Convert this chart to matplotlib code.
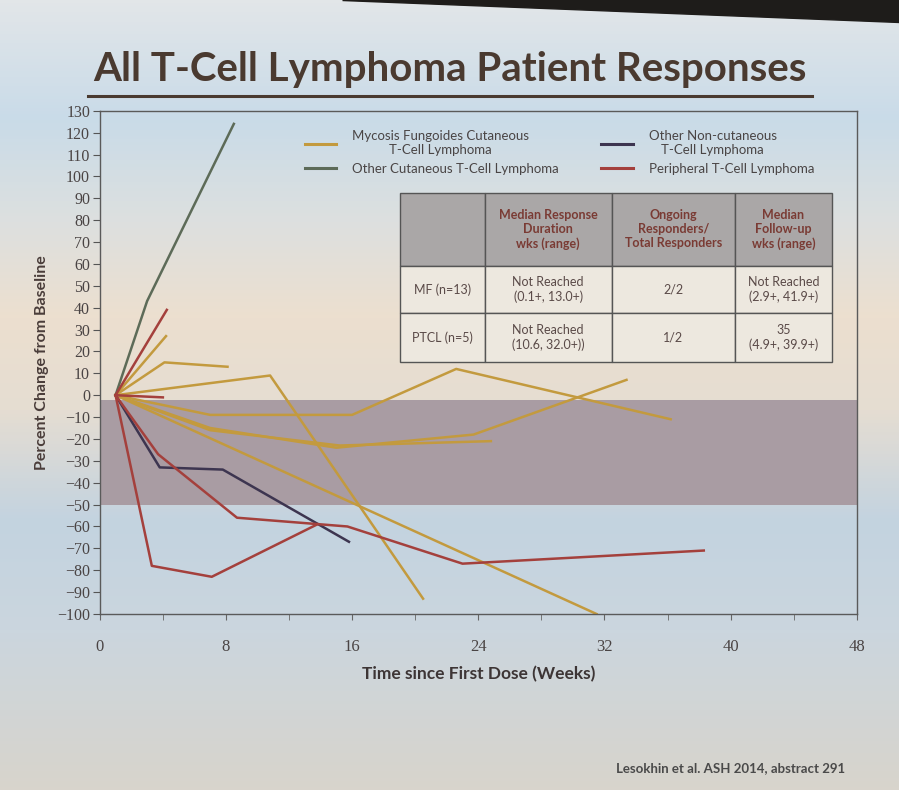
import numpy as np
import matplotlib.pyplot as plt
from matplotlib.colors import LinearSegmentedColormap
from matplotlib.lines import Line2D

plt.rcParams['font.family'] = ['Lato', 'DejaVu Sans']

# colours per lymphoma type
MF_C = '#c39a3e'
OCT_C = '#5d6b58'
ONC_C = '#3d3550'
PTCL_C = '#a4403c'

# weeks / percent change, one pair per patient
mf_t = [[1, 4.2], [1, 4.1, 8.1], [1, 10.8, 20.5], [1, 7, 16, 22.6, 36.2],
        [1, 7, 15, 23.7, 33.4], [1, 7, 15.2, 24.8], [1, 31.5]]
mf_v = [[0, 27], [0, 15, 13], [0, 9, -93], [0, -9, -9, 12, -11],
        [0, -15, -24, -18, 7], [0, -16, -23, -21], [0, -100]]
oct_t = [[1, 3, 8.5]]
oct_v = [[0, 43, 124]]
onc_t = [[1, 3.8, 7.8, 15.8]]
onc_v = [[0, -33, -34, -67]]
ptcl_t = [[1, 4.25], [1, 4], [1, 3.7, 8.7, 15.7, 23, 38.3], [1, 3.3, 7.1, 13.8]]
ptcl_v = [[0, 39], [0, -1], [0, -27, -56, -60, -77, -71], [0, -78, -83, -59]]

band = (-50, -2)

legend_labels = ['Mycosis Fungoides Cutaneous\nT-Cell Lymphoma',
                 'Other Cutaneous T-Cell Lymphoma',
                 'Other Non-cutaneous\nT-Cell Lymphoma',
                 'Peripheral T-Cell Lymphoma']

table_header = ['', 'Median Response\nDuration\nwks (range)',
                'Ongoing\nResponders/\nTotal Responders',
                'Median\nFollow-up\nwks (range)']
table_rows = [['MF (n=13)', 'Not Reached\n(0.1+, 13.0+)', '2/2', 'Not Reached\n(2.9+, 41.9+)'],
              ['PTCL (n=5)', 'Not Reached\n(10.6, 32.0+))', '1/2', '35\n(4.9+, 39.9+)']]

fig = plt.figure(figsize=(8.99, 7.9), dpi=100)

# photo-like background of the projected slide (top -> bottom)
bg = fig.add_axes([0, 0, 1, 1], zorder=-5)
stops = [(0.0, '#e2e6e8'), (0.15, '#c9dbe8'), (0.28, '#dde0df'), (0.40, '#ecdfcf'),
         (0.52, '#e5ddd2'), (0.66, '#c3d3e0'), (0.80, '#cbd6de'), (1.0, '#d8d4cc')]
cmap = LinearSegmentedColormap.from_list('slide', stops)
grad = np.linspace(0, 1, 256).reshape(-1, 1)
bg.imshow(grad, cmap=cmap, aspect='auto', extent=[0, 1, 0, 1], origin='upper')
bg.fill([0.38, 1, 1], [1, 1, 0.972], color='#1e1c1a')
bg.set_xlim(0, 1)
bg.set_ylim(0, 1)
bg.axis('off')

ax = fig.add_axes([0.111, 0.2228, 0.842, 0.637])
ax.set_facecolor('none')
ax.axhspan(band[0], band[1], color='#a99ca3', zorder=0, lw=0)

for t, v in zip(mf_t, mf_v):
    ax.plot(t, v, color=MF_C, lw=1.8, zorder=2)
for t, v in zip(oct_t, oct_v):
    ax.plot(t, v, color=OCT_C, lw=1.8, zorder=2)
for t, v in zip(onc_t, onc_v):
    ax.plot(t, v, color=ONC_C, lw=1.8, zorder=2)
for t, v in zip(ptcl_t, ptcl_v):
    ax.plot(t, v, color=PTCL_C, lw=1.8, zorder=2)

ax.set_xlim(0, 48)
ax.set_ylim(-100, 130)
ax.set_yticks(range(-100, 131, 10))
ax.set_xticks(range(0, 49, 8))
ax.set_xticks(range(4, 48, 8), minor=True)
for lab in ax.get_yticklabels():
    lab.set_family('Liberation Serif')
for lab in ax.get_xticklabels():
    lab.set_family('Liberation Serif')
ax.tick_params(axis='y', labelsize=11.5, colors='#555555', labelcolor='#4a4444', length=5, pad=2)
ax.tick_params(axis='x', which='both', labelsize=12, colors='#666666', labelcolor='#4a4444',
               length=4, pad=14)
for s in ax.spines.values():
    s.set_color('#5a5a5a')
    s.set_linewidth(1)

ax.set_xlabel('Time since First Dose (Weeks)', fontsize=12.5, fontweight='bold',
              color='#3d3535', labelpad=8)
ax.set_ylabel('Percent Change from Baseline', fontsize=11.5, fontweight='bold',
              color='#4a3d3a', labelpad=6)

handles = [Line2D([], [], color=MF_C, lw=2.2), Line2D([], [], color=OCT_C, lw=2.2),
           Line2D([], [], color=ONC_C, lw=2.2), Line2D([], [], color=PTCL_C, lw=2.2)]
leg = ax.legend(handles, legend_labels, ncol=2, frameon=False, fontsize=9.5,
                loc='upper left', bbox_to_anchor=(0.255, 0.985), handlelength=2.4,
                handletextpad=1.2, columnspacing=3.2, labelspacing=0.5)
for txt in leg.get_texts():
    txt.set_ha('center')
    txt.set_color('#4a4545')
leg.set_zorder(3)

tbl = ax.table(cellText=[table_header] + table_rows, colWidths=[0.197, 0.294, 0.285, 0.224],
               cellLoc='center', bbox=[0.396, 0.50, 0.571, 0.337], zorder=4)
tbl.auto_set_font_size(False)
tbl.set_fontsize(9)
row_h = [0.43, 0.28, 0.29]
for (r, c), cell in tbl.get_celld().items():
    cell.set_height(row_h[r])
    cell.set_edgecolor('#555555')
    cell.set_linewidth(1)
    if r == 0:
        cell.set_facecolor('#aaa7a7')
        cell.get_text().set_color('#7a3b34')
        cell.get_text().set_fontweight('bold')
    else:
        cell.set_facecolor('#ede8df')
        cell.get_text().set_color('#5a4a48')
        if c == 0:
            cell._loc = 'left'

fig.text(0.5, 1 - 70 / 790, 'All T-Cell Lymphoma Patient Responses', ha='center',
         va='center', fontsize=29, fontweight='bold', color='#4a3a30')
fig.add_artist(Line2D([88 / 899, 812 / 899], [1 - 96 / 790, 1 - 96 / 790],
                      color='#4a3a30', lw=2.2))
fig.text(845 / 899, 1 - 768 / 790, 'Lesokhin et al. ASH 2014, abstract 291', ha='right',
         va='center', fontsize=9.5, fontweight='bold', color='#4a4a4a')

fig.savefig('out.png', dpi=100)
